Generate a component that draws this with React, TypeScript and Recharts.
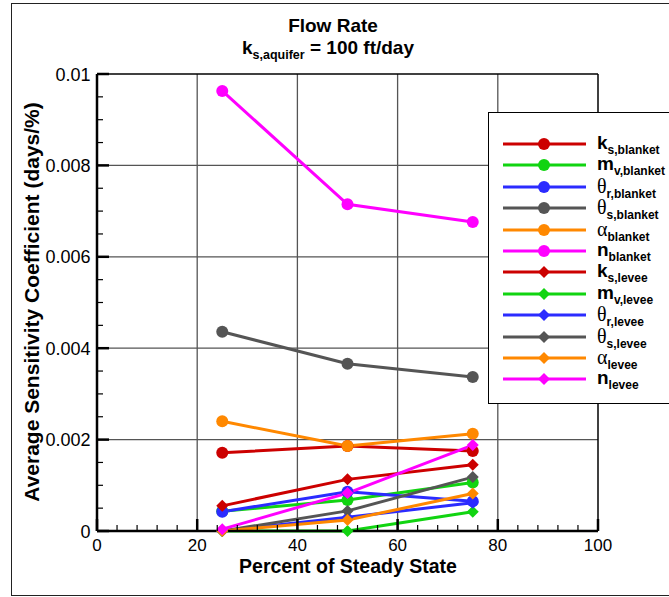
import { LineChart, Line, XAxis, YAxis, ReferenceLine } from "recharts";

// x positions (percent of steady state)
const percent = [25, 50, 75];

// average sensitivity coefficients (days/%)
const ksBlanket = [0.00171, 0.00186, 0.00175];
const mvBlanket = [0.00043, 0.00068, 0.00106];
const thetaRBlanket = [0.00042, 0.00086, 0.00065];
const thetaSBlanket = [0.00436, 0.00366, 0.00337];
const alphaBlanket = [0.0024, 0.00186, 0.00213];
const nBlanket = [0.00963, 0.00715, 0.00676];
const ksLevee = [0.00055, 0.00113, 0.00145];
const mvLevee = [0.0, 0.0, 0.00042];
const thetaRLevee = [0.0, 0.0003, 0.00062];
const thetaSLevee = [0.0, 0.00044, 0.00118];
const alphaLevee = [0.0, 0.00024, 0.00082];
const nLevee = [0.00004, 0.00083, 0.00188];

const xTicks = [0, 4, 8, 12, 16, 20, 24, 28, 32, 36, 40, 44, 48, 52, 56, 60, 64, 68, 72, 76, 80, 84, 88, 92, 96, 100];
const xMajor = [0, 20, 40, 60, 80, 100];
const yTicks = [
  0, 0.0005, 0.001, 0.0015, 0.002, 0.0025, 0.003, 0.0035, 0.004, 0.0045, 0.005,
  0.0055, 0.006, 0.0065, 0.007, 0.0075, 0.008, 0.0085, 0.009, 0.0095, 0.01,
];
const yMajor = [0, 0.002, 0.004, 0.006, 0.008, 0.01];
const yMajorLabels = ["0", "0.002", "0.004", "0.006", "0.008", "0.01"];
const xGrid = [20, 40, 60, 80];
const yGrid = [0.002, 0.004, 0.006, 0.008];

const RED = "#cc0000";
const GREEN = "#11d411";
const BLUE = "#2b2bff";
const GRAY = "#555555";
const ORANGE = "#ff8800";
const MAGENTA = "#ff00ff";

type Series = { key: string; values: number[]; sym: string; greek: boolean; sub: string; color: string; shape: "circle" | "diamond" };

const series: Series[] = [
  { key: "ksB", values: ksBlanket, sym: "k", greek: false, sub: "s,blanket", color: RED, shape: "circle" },
  { key: "mvB", values: mvBlanket, sym: "m", greek: false, sub: "v,blanket", color: GREEN, shape: "circle" },
  { key: "trB", values: thetaRBlanket, sym: "θ", greek: true, sub: "r,blanket", color: BLUE, shape: "circle" },
  { key: "tsB", values: thetaSBlanket, sym: "θ", greek: true, sub: "s,blanket", color: GRAY, shape: "circle" },
  { key: "aB", values: alphaBlanket, sym: "α", greek: true, sub: "blanket", color: ORANGE, shape: "circle" },
  { key: "nB", values: nBlanket, sym: "n", greek: false, sub: "blanket", color: MAGENTA, shape: "circle" },
  { key: "ksL", values: ksLevee, sym: "k", greek: false, sub: "s,levee", color: RED, shape: "diamond" },
  { key: "mvL", values: mvLevee, sym: "m", greek: false, sub: "v,levee", color: GREEN, shape: "diamond" },
  { key: "trL", values: thetaRLevee, sym: "θ", greek: true, sub: "r,levee", color: BLUE, shape: "diamond" },
  { key: "tsL", values: thetaSLevee, sym: "θ", greek: true, sub: "s,levee", color: GRAY, shape: "diamond" },
  { key: "aL", values: alphaLevee, sym: "α", greek: true, sub: "levee", color: ORANGE, shape: "diamond" },
  { key: "nL", values: nLevee, sym: "n", greek: false, sub: "levee", color: MAGENTA, shape: "diamond" },
];

const data = percent.map((p, i) => {
  const row: Record<string, number> = { x: p };
  series.forEach((s) => (row[s.key] = s.values[i]));
  return row;
});

const FONT = "'Liberation Sans', Arial, Helvetica, sans-serif";

const makeDot = (color: string, shape: string) => (props: any) => {
  const { cx, cy, index } = props;
  if (cx == null || cy == null) return <g key={index} />;
  if (shape === "circle") return <circle key={index} cx={cx} cy={cy} r={6} fill={color} />;
  const r = 6;
  return <polygon key={index} points={`${cx},${cy - r} ${cx + r},${cy} ${cx},${cy + r} ${cx - r},${cy}`} fill={color} />;
};

const XTick = ({ x, y, payload }: any) => {
  const major = xMajor.includes(payload.value);
  return (
    <g>
      <line x1={x} x2={x} y1={y} y2={y - (major ? 12 : 6)} stroke="#000" strokeWidth={major ? 2.5 : 1.2} />
      {major && (
        <text x={x} y={y + 19.5} textAnchor="middle" fontSize={17} fontFamily={FONT} fill="#000">
          {payload.value}
        </text>
      )}
    </g>
  );
};

const YTick = ({ x, y, payload }: any) => {
  const idx = yMajor.findIndex((v) => Math.abs(v - payload.value) < 1e-9);
  const major = idx >= 0;
  return (
    <g>
      <line x1={x} x2={x + (major ? 12 : 6)} y1={y} y2={y} stroke="#000" strokeWidth={major ? 2.5 : 1.2} />
      {major && (
        <text x={x - 6.5} y={y + 6.5} textAnchor="end" fontSize={18} fontFamily={FONT} fill="#000">
          {yMajorLabels[idx]}
        </text>
      )}
    </g>
  );
};

const LegendBox = () => (
  <div
    style={{
      position: "absolute",
      left: 488,
      top: 112,
      width: 200,
      height: 290,
      border: "1px solid #000",
      background: "#fff",
      fontFamily: FONT,
    }}
  >
    {series.map((s, i) => (
      <div key={s.key} style={{ position: "absolute", left: 0, top: 20 + i * 21.4, height: 22, width: 200 }}>
        <svg width={100} height={22} style={{ position: "absolute", left: 0, top: 0 }}>
          <line x1={14} x2={97} y1={11} y2={11} stroke={s.color} strokeWidth={3} />
          {s.shape === "circle" ? (
            <circle cx={55} cy={11} r={6} fill={s.color} />
          ) : (
            <polygon points="55,5 61,11 55,17 49,11" fill={s.color} />
          )}
        </svg>
        <div style={{ position: "absolute", left: 108, top: -1, whiteSpace: "nowrap", lineHeight: "22px" }}>
          <span
            style={{
              fontSize: s.greek ? 20 : 19,
              fontWeight: s.greek ? "normal" : "bold",
              fontFamily: s.greek ? "'Liberation Serif', serif" : FONT,
            }}
          >
            {s.sym}
          </span>
          <span style={{ fontSize: 12, fontWeight: "bold", position: "relative", top: 5 }}>{s.sub}</span>
        </div>
      </div>
    ))}
  </div>
);

export default function App() {
  return (
    <div style={{ position: "absolute", left: 0, top: 0, width: 669, height: 597, background: "#fff", overflow: "hidden" }}>
      <div style={{ position: "absolute", left: 11, top: 3, width: 700, height: 591, border: "1.5px solid #222" }} />
      <div style={{ position: "absolute", left: 0, top: 0 }}>
        <LineChart width={669} height={597} data={data} margin={{ top: 74, right: 71, bottom: 0, left: 0 }}>
          <XAxis
            dataKey="x"
            type="number"
            domain={[0, 100]}
            ticks={xTicks}
            interval={0}
            height={66}
            tickSize={0}
            tickMargin={0}
            tickLine={false}
            axisLine={{ stroke: "#000", strokeWidth: 2.5 }}
            tick={<XTick />}
          />
          <YAxis
            type="number"
            domain={[0, 0.01]}
            ticks={yTicks}
            interval={0}
            width={97}
            tickSize={0}
            tickMargin={0}
            tickLine={false}
            axisLine={{ stroke: "#000", strokeWidth: 2.5 }}
            tick={<YTick />}
          />
          {xGrid.map((v) => (
            <ReferenceLine key={`gx${v}`} x={v} stroke="#555" strokeWidth={1.3} />
          ))}
          {yGrid.map((v) => (
            <ReferenceLine key={`gy${v}`} y={v} stroke="#555" strokeWidth={1.3} />
          ))}
          <ReferenceLine x={100} stroke="#000" strokeWidth={1.5} />
          <ReferenceLine y={0.01} stroke="#000" strokeWidth={1.5} />
          {series.map((s) => (
            <Line
              key={s.key}
              dataKey={s.key}
              type="linear"
              stroke={s.color}
              strokeWidth={3}
              dot={makeDot(s.color, s.shape)}
              activeDot={false}
              isAnimationActive={false}
            />
          ))}
        </LineChart>
      </div>
      <svg width={669} height={597} style={{ position: "absolute", left: 0, top: 0, pointerEvents: "none" }}>
        <text x={333} y={32} textAnchor="middle" fontSize={19} fontWeight="bold" fontFamily={FONT}>
          Flow Rate
        </text>
        <text x={328} y={54} textAnchor="middle" fontSize={19} fontWeight="bold" fontFamily={FONT}>
          k
          <tspan fontSize={12.5} dy={5}>s,aquifer</tspan>
          <tspan dy={-5}> = 100 ft/day</tspan>
        </text>
        <text
          x={33}
          y={302}
          textAnchor="middle"
          fontSize={21}
          fontWeight="bold"
          fontFamily={FONT}
          transform="rotate(-90 33 302)"
          dominantBaseline="middle"
        >
          Average Sensitivity Coefficient (days/%)
        </text>
        <text x={348} y={572.5} textAnchor="middle" fontSize={19.5} fontWeight="bold" fontFamily={FONT}>
          Percent of Steady State
        </text>
      </svg>
      <LegendBox />
    </div>
  );
}
